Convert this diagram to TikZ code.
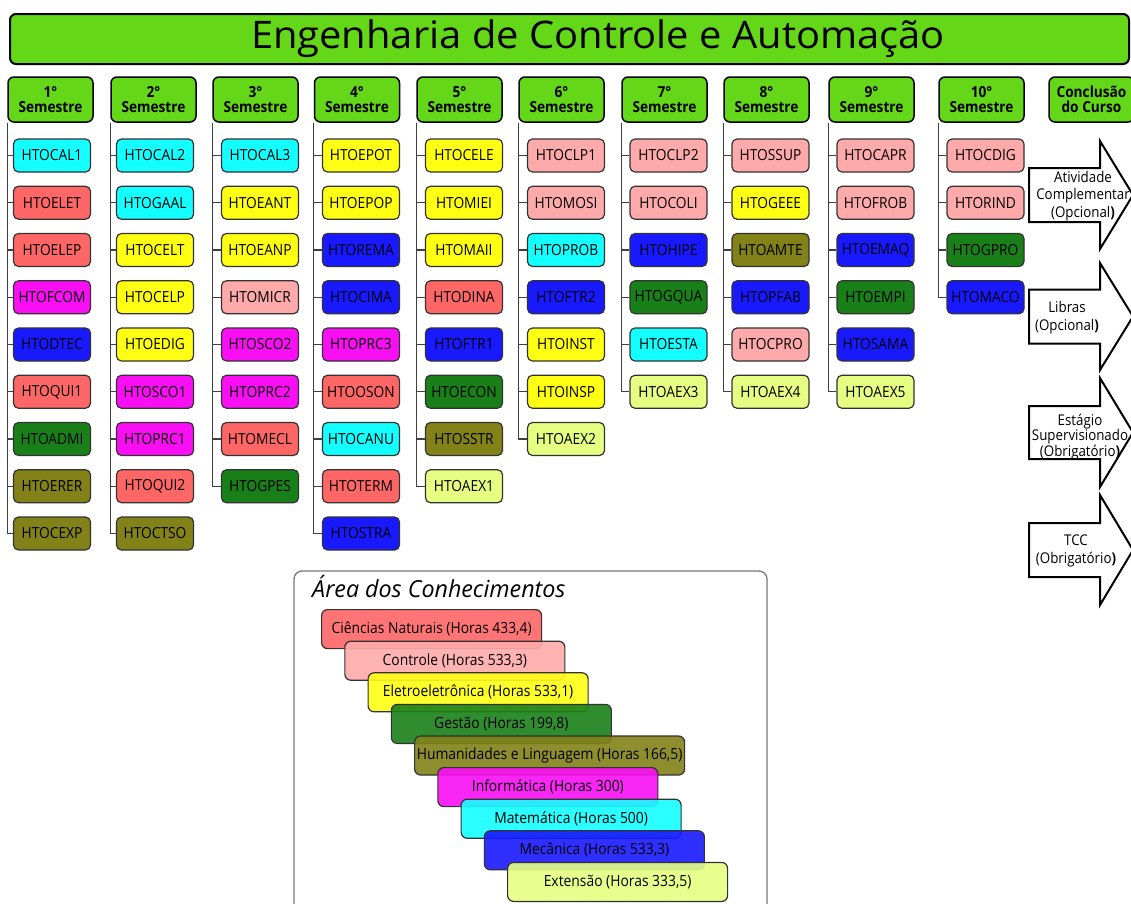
\documentclass[tikz,border=0pt]{standalone}
\usepackage{fontspec}
\setmainfont[FakeStretch=0.9]{Open Sans}
\definecolor{hdr}{RGB}{100,215,25}
\definecolor{cnat}{RGB}{255,102,102}
\definecolor{cctl}{RGB}{255,170,170}
\definecolor{cele}{RGB}{255,255,20}
\definecolor{cges}{RGB}{25,128,25}
\definecolor{chum}{RGB}{130,130,25}
\definecolor{cinf}{RGB}{250,15,245}
\definecolor{cmat}{RGB}{20,255,255}
\definecolor{cmec}{RGB}{25,25,255}
\definecolor{cext}{RGB}{230,255,130}
\definecolor{bgray}{RGB}{50,50,50}
\definecolor{tgray}{RGB}{64,64,64}
\definecolor{lgray}{RGB}{120,120,120}
\tikzset{
  semhead/.style={draw=black, line width=1.5pt, rounded corners=6pt, fill=hdr,
    minimum width=85pt, minimum height=45pt, inner sep=0pt, align=center,
    font=\fontsize{15.2}{15.5}\selectfont\bfseries},
  course/.style={draw=bgray, line width=1.2pt, rounded corners=5pt,
    minimum width=77pt, minimum height=33pt, inner sep=0pt,
    font=\fontsize{15.3}{18}\selectfont},
  tree/.style={draw=tgray, line width=1.4pt},
  legbar/.style={draw=bgray, line width=1.2pt, rounded corners=6pt,
    minimum height=39pt, inner sep=0pt, fill opacity=0.9, text opacity=1,
    font=\fontsize{15.4}{17}\selectfont, anchor=north west},
  arrowbox/.style={draw=black, line width=2pt, fill=white, line join=miter},
  arrowtext/.style={align=center, inner sep=0pt},
}
\newcommand\semcol[3]{%
  \foreach \nm/\cl [count=\i] in {#3} {%
    \node[course, fill=\cl] (c#1-\i) at (#2,{155.5+47.25*(\i-1)}) {\nm};
    \draw[tree] (h#1.south west) |- (c#1-\i.west);
  }%
}
\newcommand\bigarrow[3]{%
  \draw[arrowbox] (1029,{#1-#2}) -- (1100,{#1-#2}) -- (1100,{#1-#3}) -- (1133,#1)
    -- (1100,{#1+#3}) -- (1100,{#1+#2}) -- (1029,{#1+#2}) -- cycle;}
\begin{document}
\begin{tikzpicture}[x=1pt,y=-1pt]
\useasboundingbox (0,0) rectangle (1131,903);
\fill[white] (0,0) rectangle (1131,903);

% title
\node[draw=black, line width=2pt, rounded corners=6pt, fill=hdr,
  minimum width=1119pt, minimum height=50pt, inner sep=0pt,
  font=\fontsize{38}{40}\selectfont] (title) at (569.5,39)
  {\hspace*{57pt}\scalebox{1.167}[1]{Engenharia de Controle e Automação}};

% semester headers
\foreach \sn/\sx in {1/50.5,2/153.5,3/255.5,4/357,5/459.5,6/561.5,7/664.5,8/766.5,9/871.5,10/981.5}
  \node[semhead] (h\sn) at (\sx,99.5) {\sn{}°\\Semestre};
\node[semhead] (hc) at (1091.5,99.5) {Conclusão\\do Curso};

% courses
\semcol{1}{52}{HTOCAL1/cmat,HTOELET/cnat,HTOELEP/cnat,HTOFCOM/cinf,HTODTEC/cmec,HTOQUI1/cnat,HTOADMI/cges,HTOERER/chum,HTOCEXP/chum}
\semcol{2}{155}{HTOCAL2/cmat,HTOGAAL/cmat,HTOCELT/cele,HTOCELP/cele,HTOEDIG/cele,HTOSCO1/cinf,HTOPRC1/cinf,HTOQUI2/cnat,HTOCTSO/chum}
\semcol{3}{260}{HTOCAL3/cmat,HTOEANT/cele,HTOEANP/cele,HTOMICR/cctl,HTOSCO2/cinf,HTOPRC2/cinf,HTOMECL/cnat,HTOGPES/cges}
\semcol{4}{361}{HTOEPOT/cele,HTOEPOP/cele,HTOREMA/cmec,HTOCIMA/cmec,HTOPRC3/cinf,HTOOSON/cnat,HTOCANU/cmat,HTOTERM/cnat,HTOSTRA/cmec}
\semcol{5}{464}{HTOCELE/cele,HTOMIEI/cele,HTOMAII/cele,HTODINA/cnat,HTOFTR1/cmec,HTOECON/cges,HTOSSTR/chum,HTOAEX1/cext}
\semcol{6}{566}{HTOCLP1/cctl,HTOMOSI/cctl,HTOPROB/cmat,HTOFTR2/cmec,HTOINST/cele,HTOINSP/cele,HTOAEX2/cext}
\semcol{7}{668.5}{HTOCLP2/cctl,HTOCOLI/cctl,HTOHIPE/cmec,HTOGQUA/cges,HTOESTA/cmat,HTOAEX3/cext}
\semcol{8}{770.5}{HTOSSUP/cctl,HTOGEEE/cele,HTOAMTE/chum,HTOPFAB/cmec,HTOCPRO/cctl,HTOAEX4/cext}
\semcol{9}{875.5}{HTOCAPR/cctl,HTOFROB/cctl,HTOEMAQ/cmec,HTOEMPI/cges,HTOSAMA/cmec,HTOAEX5/cext}
\semcol{10}{985.5}{HTOCDIG/cctl,HTORIND/cctl,HTOGPRO/cges,HTOMACO/cmec}

% conclusion arrows
\bigarrow{195}{27}{54}
\bigarrow{316.5}{27}{53.5}
\bigarrow{432.5}{26.5}{54.5}
\bigarrow{550}{27}{55}
\node[arrowtext, font=\fontsize{14.8}{17.5}\selectfont] (a1) at (1083,196)
  {Atividade\\Complementar\\(Opcional\textbf{)}};
\node[arrowtext, font=\fontsize{14.8}{18}\selectfont] (a2) at (1067,317.5)
  {Libras\\(Opcional\textbf{)}};
\node[arrowtext, font=\fontsize{14.8}{14.5}\selectfont] (a3) at (1080,437)
  {Estágio\\Supervisionado\\(Obrigatório\textbf{)}};
\node[arrowtext, font=\fontsize{14.8}{18}\selectfont] (a4) at (1076,550.5)
  {TCC\\(Obrigatório\textbf{)}};

% legend
\draw[draw=lgray, line width=1.3pt, rounded corners=8pt] (294,571) rectangle (767,915);
\node[anchor=base west, inner sep=0pt, font=\fontsize{23.5}{26}\selectfont\itshape] (lt) at (312,597)
  {\scalebox{1.1}[1]{Área dos Conhecimentos}};
\node[legbar, minimum width=220pt, fill=cnat] (l1) at (321,609) {Ciências Naturais (Horas 433,4)};
\node[legbar, minimum width=220pt, fill=cctl] (l2) at (344.25,640.6) {Controle (Horas 533,3)};
\node[legbar, minimum width=220pt, fill=cele] (l3) at (367.5,672.2) {Eletroeletrônica (Horas 533,1)};
\node[legbar, minimum width=220pt, fill=cges] (l4) at (390.75,703.8) {Gestão (Horas 199,8)};
\node[legbar, minimum width=270pt, fill=chum] (l5) at (414,735.4) {Humanidades e Linguagem (Horas 166,5)};
\node[legbar, minimum width=220pt, fill=cinf] (l6) at (437.25,767) {Informática (Horas 300)};
\node[legbar, minimum width=220pt, fill=cmat] (l7) at (460.5,798.6) {Matemática (Horas 500)};
\node[legbar, minimum width=220pt, fill=cmec] (l8) at (483.75,830.2) {Mecânica (Horas 533,3)};
\node[legbar, minimum width=220pt, fill=cext] (l9) at (507,861.8) {Extensão (Horas 333,5)};
\end{tikzpicture}
\end{document}
